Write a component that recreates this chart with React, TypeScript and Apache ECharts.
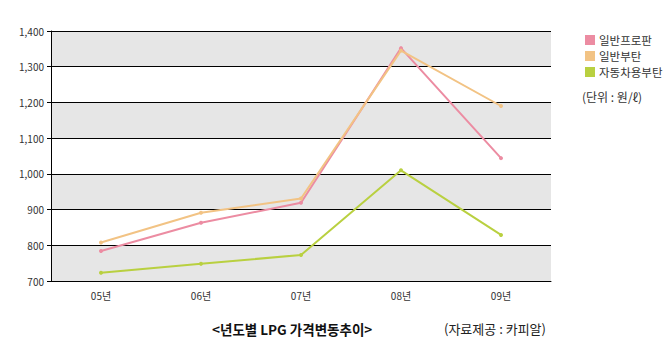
import React, { useEffect, useRef } from "react";
import * as echarts from "echarts";

const categories = ["05년", "06년", "07년", "08년", "09년"];
const propane = [784, 863, 919, 1352, 1044];
const butane = [808, 891, 931, 1345, 1190];
const autoButane = [723, 748, 773, 1010, 829];
const seriesNames = ["일반프로판", "일반부탄", "자동차용부탄"];
const colors = ["#EC8CA2", "#F2C384", "#B9D040"];

const FONT = "'Noto Sans CJK KR', 'Noto Sans', sans-serif";

export default function App() {
  const ref = useRef<HTMLDivElement>(null);
  useEffect(() => {
    if (!ref.current) return;
    const chart = echarts.init(ref.current, undefined, { renderer: "svg" });
    const mk = (name: string, data: number[], color: string) => ({
      name,
      type: "line",
      data,
      symbol: "circle",
      symbolSize: 4,
      lineStyle: { color, width: 2 },
      itemStyle: { color },
    });
    chart.setOption({
      animation: false,
      backgroundColor: "#ffffff",
      textStyle: { fontFamily: FONT },
      grid: { left: 51, top: 31, width: 500, height: 250 },
      legend: {
        orient: "vertical",
        left: 580,
        top: 29,
        itemWidth: 10,
        itemHeight: 10,
        itemGap: 4,
        icon: "rect",
        data: seriesNames,
        textStyle: { fontSize: 11.5, lineHeight: 12, color: "#333", fontFamily: FONT, padding: [0, 0, 0, -1] },
      },
      graphic: [
        {
          type: "text",
          left: 582,
          top: 90,
          style: { text: "(단위 : 원/ℓ)", fontSize: 12, fill: "#333", fontFamily: FONT },
        },
        {
          type: "text",
          left: 212,
          top: 322,
          style: { text: "<년도별 LPG 가격변동추이>", fontSize: 13.5, fontWeight: "bold", fill: "#111", fontFamily: FONT },
        },
        {
          type: "text",
          left: 444,
          top: 322,
          style: { text: "(자료제공 : 카피알)", fontSize: 13, fill: "#222", fontFamily: FONT },
        },
      ],
      xAxis: {
        type: "category",
        data: categories,
        boundaryGap: true,
        axisLine: { lineStyle: { color: "#000", width: 1 } },
        axisTick: { alignWithLabel: true, length: 4, lineStyle: { color: "#000" } },
        axisLabel: { fontSize: 10, color: "#333", margin: 9, fontFamily: FONT },
      },
      yAxis: {
        type: "value",
        min: 700,
        max: 1400,
        interval: 100,
        axisLine: { show: true, lineStyle: { color: "#000", width: 1 } },
        axisTick: { show: true, length: 4, lineStyle: { color: "#000" } },
        axisLabel: {
          fontSize: 10,
          color: "#333",
          margin: 7,
          fontFamily: FONT,
          formatter: (v: number) => v.toLocaleString("en-US"),
        },
        splitLine: { show: true, lineStyle: { color: "#000", width: 1 } },
        splitArea: { show: true, areaStyle: { color: ["#E6E6E6", "#FFFFFF"] } },
      },
      series: [
        mk(seriesNames[0], propane, colors[0]),
        mk(seriesNames[1], butane, colors[1]),
        mk(seriesNames[2], autoButane, colors[2]),
      ],
    });
    return () => chart.dispose();
  }, []);
  return (
    <div
      ref={ref}
      style={{ position: "fixed", left: 0, top: 0, width: 669, height: 355, background: "#fff" }}
    />
  );
}
